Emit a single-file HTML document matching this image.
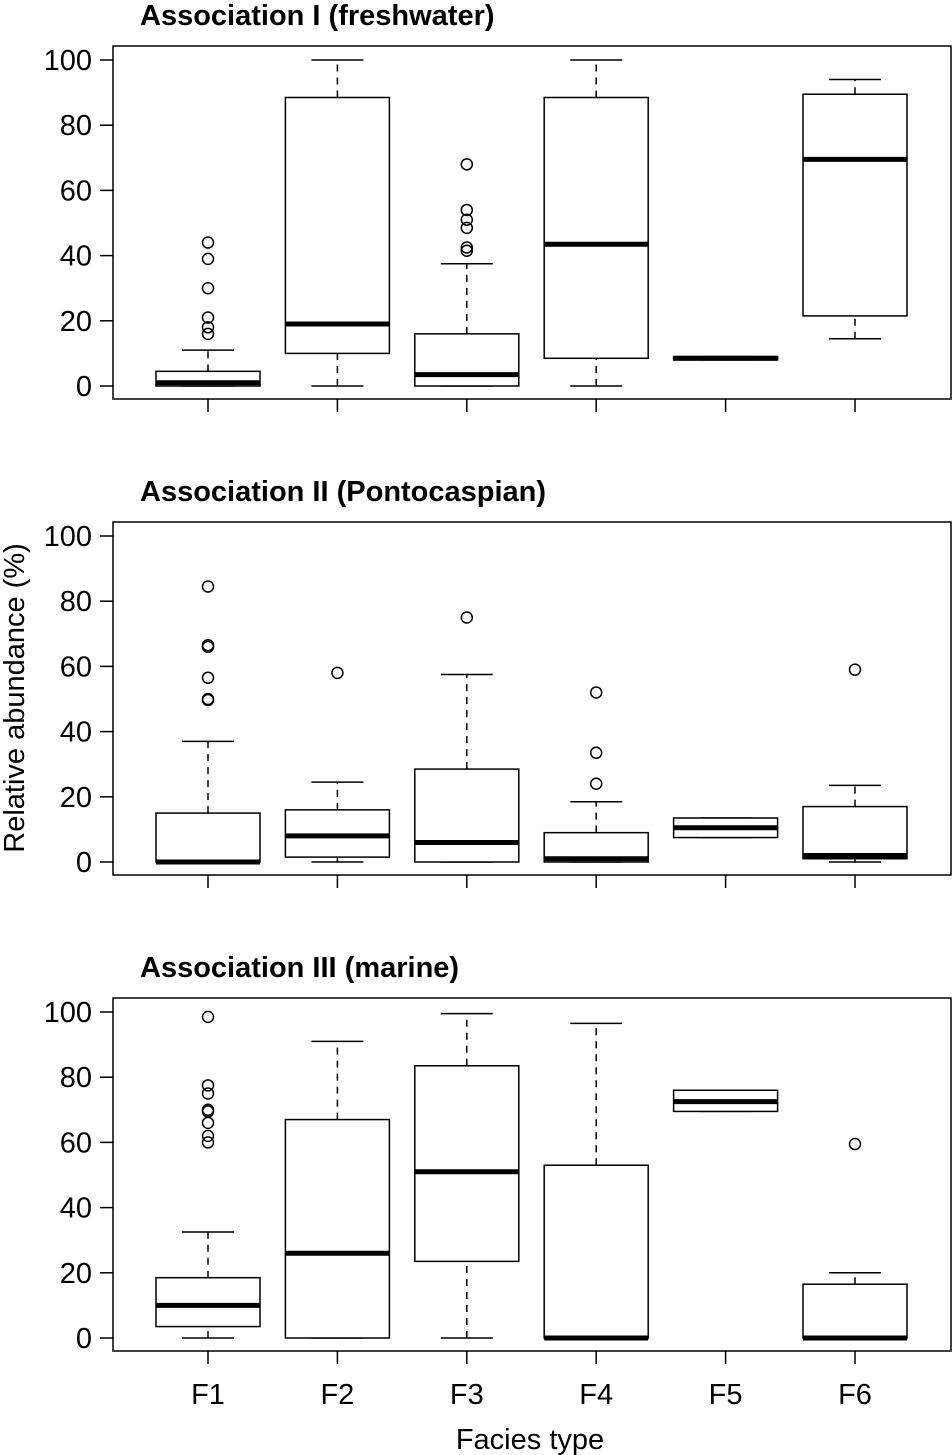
<!DOCTYPE html>
<html><head><meta charset="utf-8"><style>
html,body{margin:0;padding:0;background:#fff;}
svg{display:block;font-family:"Liberation Sans",sans-serif;}
</style></head><body>
<svg id="chart" width="952" height="1455" viewBox="0 0 952 1455" xmlns="http://www.w3.org/2000/svg"></svg>
<script>
const categories = ["F1","F2","F3","F4","F5","F6"];
const panelTitles = ["Association I (freshwater)","Association II (Pontocaspian)","Association III (marine)"];
const yTicks = [0,20,40,60,80,100];
// [low, q1, median, q3, high] per category
const stats1 = [[0,0,1,4.5,11],[0,10,19,88.5,100],[0,0,3.5,16,37.5],[0,8.5,43.5,88.5,100],[8,8,8.5,9,9],[14.5,21.5,69.5,89.5,94]];
const outliers1 = [[44,39,30,21,18,16],[],[68,54,51,48.5,42.5,41.5],[],[],[]];
const stats2 = [[0,0,0,15,37],[0,1.5,8,16,24.5],[0,0,6,28.5,57.5],[0,0,1,9,18.5],[7.5,7.5,10.5,13.5,13.5],[0,1,2,17,23.5]];
const outliers2 = [[84.5,66.5,66,56.5,50,49.7],[58],[75],[52,33.5,24],[],[59]];
const stats3 = [[0,3.5,10,18.5,32.5],[0,0,26,67,91],[0,23.5,51,83.5,99.5],[0,0,0,53,96.5],[69.5,69.5,72.5,76,76],[0,0,0,16.5,20]];
const outliers3 = [[98.5,77.5,75,70,69.5,66,62,60],[],[],[],[],[59.5]];

const svg = document.getElementById('chart');
const NS = 'http://www.w3.org/2000/svg';
function mk(tag, attrs, parent){const e=document.createElementNS(NS,tag);for(const k in attrs)e.setAttribute(k,attrs[k]);(parent||svg).appendChild(e);return e;}

const panels = [{top:46,stats:stats1,out:outliers1},{top:522,stats:stats2,out:outliers2},{top:998,stats:stats3,out:outliers3}];
const xL=113, xR=951, boxW=104;
function xPos(i){return 208 + i*129.4;}

panels.forEach((p,pi)=>{
  const g = mk('g',{});
  
  
  const y0 = p.top+340, y100 = p.top+14;
  const yS = v => y0 - (y0-y100)*v/100;
  const t = mk('text',{x:140,y:p.top-21,'font-size':'29','font-weight':'bold',fill:'#000'},g);
  t.textContent = panelTitles[pi];
  
  
  const fr = mk('rect',{x:xL,y:p.top,width:xR-xL,height:353,fill:'none',stroke:'#000','stroke-width':1.5},g);
  
  
  yTicks.forEach(v=>{
    mk('line',{x1:xL-13,x2:xL,y1:yS(v),y2:yS(v),stroke:'#000','stroke-width':1.5},g);
    const tl = mk('text',{x:92,y:yS(v)+10,'font-size':'29','text-anchor':'end',fill:'#000'},g);
    tl.textContent = v;
    
    
  });
  categories.forEach((c,i)=>{
    const x = xPos(i), s = p.stats[i];
    mk('line',{x1:x,x2:x,y1:p.top+353,y2:p.top+366,stroke:'#000','stroke-width':1.5},g);
    const bg = mk('g',{},g);
    
    
    mk('line',{x1:x,x2:x,y1:yS(s[0]),y2:yS(s[1]),stroke:'#000','stroke-width':1.5,'stroke-dasharray':'7,6'},bg);
    mk('line',{x1:x,x2:x,y1:yS(s[3]),y2:yS(s[4]),stroke:'#000','stroke-width':1.5,'stroke-dasharray':'7,6'},bg);
    mk('line',{x1:x-26,x2:x+26,y1:yS(s[0]),y2:yS(s[0]),stroke:'#000','stroke-width':1.5},bg);
    mk('line',{x1:x-26,x2:x+26,y1:yS(s[4]),y2:yS(s[4]),stroke:'#000','stroke-width':1.5},bg);
    mk('rect',{x:x-boxW/2,y:yS(s[3]),width:boxW,height:Math.max(0,yS(s[1])-yS(s[3])),fill:'#fff',stroke:'#000','stroke-width':1.5},bg);
    mk('line',{x1:x-boxW/2,x2:x+boxW/2,y1:yS(s[2]),y2:yS(s[2]),stroke:'#000','stroke-width':5},bg);
    p.out[i].forEach(v=>{
      const o = mk('circle',{cx:x,cy:yS(v),r:5.5,fill:'none',stroke:'#000','stroke-width':1.5},bg);
      
      
    });
  });
});
categories.forEach((c,i)=>{
  const t = mk('text',{x:xPos(i),y:1404,'font-size':'29','text-anchor':'middle',fill:'#000'});
  t.textContent = c;
  
  
});
const xt = mk('text',{x:530,y:1449,'font-size':'29','text-anchor':'middle',fill:'#000'});
xt.textContent = 'Facies type';


const yt = mk('text',{x:0,y:0,'font-size':'29','text-anchor':'middle',fill:'#000',transform:'translate(24,698) rotate(-90)'});
yt.textContent = 'Relative abundance (%)';


</script>
</body></html>
